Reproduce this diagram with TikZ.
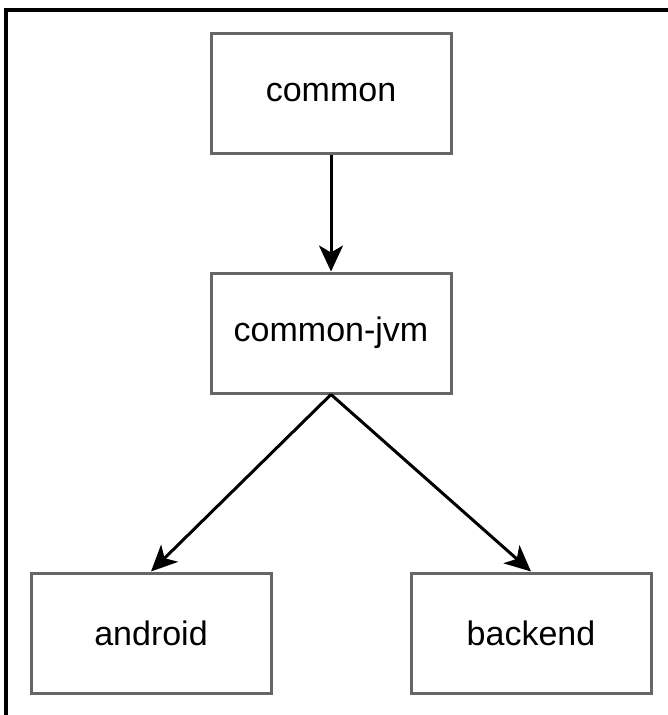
\documentclass[tikz,border=0pt]{standalone}
\usepackage{fontspec}
\setmainfont{Liberation Sans}
\usetikzlibrary{arrows.meta}
\definecolor{boxgray}{HTML}{666666}
\tikzset{
  modbox/.style={draw=boxgray, line width=3pt, minimum width=240pt, minimum height=120pt, inner sep=0pt, font=\fontsize{34}{40}\selectfont},
  deparrow/.style={draw=black, line width=3pt, -{Stealth[length=26pt,width=24pt,inset=7pt]}}
}
\begin{document}
\begin{tikzpicture}[x=1pt,y=-1pt]
\useasboundingbox (0,0) rectangle (668,715);
\fill[white] (0,0) rectangle (668,715);
\coordinate (fa) at (6,715);
\coordinate (fb) at (6,10);
\coordinate (fc) at (668,10);
\draw[line width=3.5pt, line cap=rect] (fa) -- (fb) -- (fc);
\node[modbox] (common) at (331,93) {common};
\node[modbox] (jvm) at (331,333) {common-jvm};
\node[modbox] (android) at (151,633) {android};
\node[modbox] (backend) at (531,633) {backend};
\draw[deparrow] (common.south) -- (jvm.north);
\draw[deparrow] (jvm.south) -- (android.north);
\draw[deparrow] (jvm.south) -- (backend.north);
\end{tikzpicture}
\end{document}
